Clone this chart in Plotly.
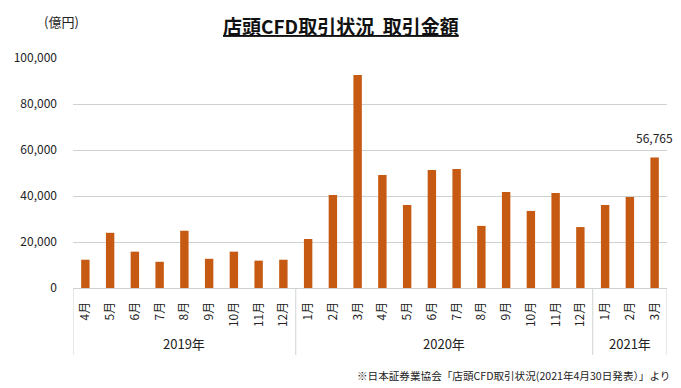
import plotly.graph_objects as go

years = ["2019年", "2019年", "2019年", "2019年", "2019年", "2019年", "2019年", "2019年", "2019年",
         "2020年", "2020年", "2020年", "2020年", "2020年", "2020年", "2020年", "2020年", "2020年",
         "2020年", "2020年", "2020年",
         "2021年", "2021年", "2021年"]
months = ["4月", "5月", "6月", "7月", "8月", "9月", "10月", "11月", "12月",
          "1月", "2月", "3月", "4月", "5月", "6月", "7月", "8月", "9月", "10月", "11月", "12月",
          "1月", "2月", "3月"]
values = [12300, 24000, 15800, 11400, 24900, 12700, 15800, 11900, 12300,
          21300, 40400, 92600, 49100, 36100, 51300, 51700, 27000, 41700, 33500, 41300, 26500,
          36100, 39600, 56765]
y_ticks = [0, 20000, 40000, 60000, 80000, 100000]

font = "Noto Sans CJK JP, Meiryo, sans-serif"
W, H = 681, 388
L, R, T, B = 73, 14, 58, 100
PW, PH = W - L - R, H - T - B
GRID = "#CDD4CF"


def px_x(x):
    return (x - L) / PW


def px_y(y):
    return (H - B - y) / PH


idx = list(range(len(values)))

fig = go.Figure()
fig.add_trace(go.Bar(
    x=idx,
    y=values,
    marker=dict(color="#C65A12", line=dict(width=0)),
    hovertext=[f"{y} {m}" for y, m in zip(years, months)],
))

annotations = [
    dict(text="<b><u>店頭CFD取引状況  取引金額</u></b>", x=px_x(341), y=px_y(26),
         font=dict(size=19, color="#111111", family=font)),
    dict(text="(億円)", x=px_x(42), y=px_y(21), font=dict(size=13, color="#222222", family=font)),
    dict(text="※日本証券業協会「店頭CFD取引状況(2021年4月30日発表）」より", x=px_x(672), y=px_y(375),
         xanchor="right", font=dict(size=10.6, color="#222222", family=font)),
]
for a in annotations:
    a.update(xref="paper", yref="paper", showarrow=False, yanchor="middle")

# value label on the last bar
annotations.append(dict(text=f"{values[-1]:,}", x=idx[-1], y=values[-1], xref="x", yref="y",
                        showarrow=False, yanchor="bottom", yshift=9,
                        font=dict(size=12, color="#222222", family=font)))

# group labels and dividers
groups = []
for i, yv in enumerate(years):
    if not groups or groups[-1][0] != yv:
        groups.append([yv, i, i])
    else:
        groups[-1][2] = i
shapes = []
for name, s, e in groups:
    annotations.append(dict(text=name, x=(s + e) / 2, y=px_y(343), xref="x", yref="paper",
                            showarrow=False, yanchor="middle",
                            font=dict(size=13, color="#222222", family=font)))
bounds = [groups[0][1] - 0.5] + [e + 0.5 for _, _, e in groups]
for bx in bounds:
    shapes.append(dict(type="line", xref="x", yref="paper", x0=bx, x1=bx, y0=0, y1=px_y(355),
                       line=dict(color=GRID, width=1)))

fig.update_layout(
    width=W, height=H,
    margin=dict(l=L, r=R, t=T, b=B),
    paper_bgcolor="white", plot_bgcolor="white",
    bargap=0.66,
    showlegend=False,
    font=dict(family=font, size=11, color="#333333"),
    annotations=annotations,
    shapes=shapes,
)

fig.update_yaxes(
    range=[0, 100000],
    tickvals=y_ticks,
    tickformat=",",
    showgrid=True, gridcolor=GRID, gridwidth=1,
    zeroline=False,
    showline=False,
    ticks="",
    ticklabelstandoff=15,
    automargin=False,
    tickfont=dict(size=12, color="#222222"),
)
fig.update_xaxes(
    range=[-0.5, len(values) - 0.5],
    tickvals=idx,
    ticktext=months,
    tickangle=-90,
    showline=True, linecolor=GRID, linewidth=1,
    showgrid=False, zeroline=False,
    ticks="",
    ticklabelstandoff=8,
    automargin=False,
    tickfont=dict(size=12, color="#222222"),
)

fig.write_html("out.html", config={"displayModeBar": False},
               post_script="document.body.style.margin='0';")
